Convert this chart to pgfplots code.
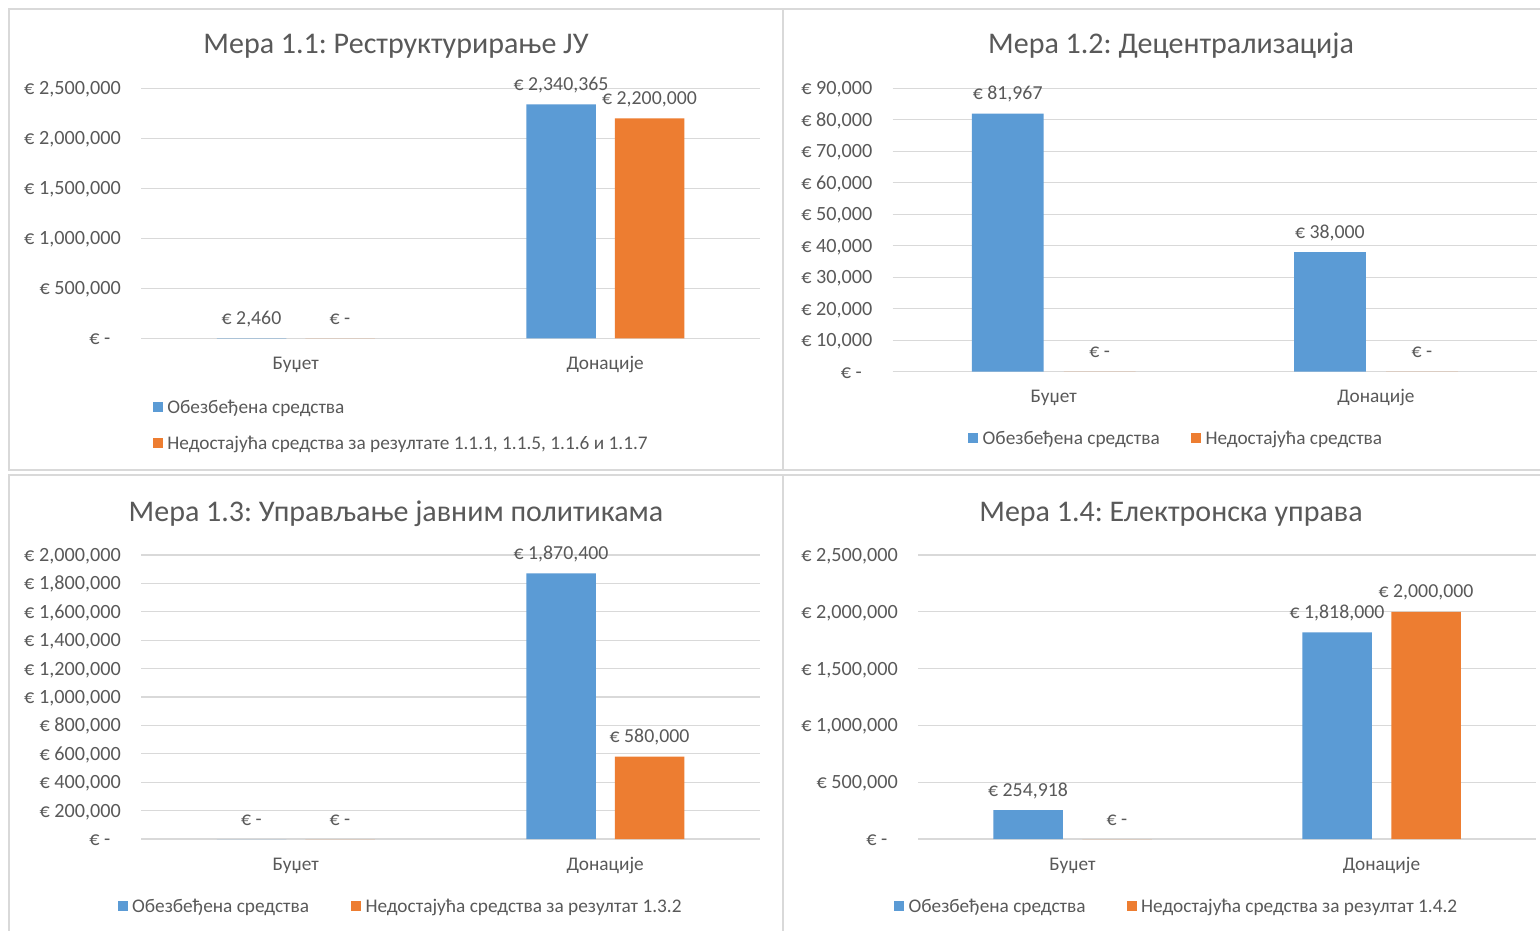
\documentclass[border=0pt]{standalone}
\usepackage{pgfplots}
\pgfplotsset{compat=1.18}
\usepackage{fontspec}
\setmainfont{Carlito}
\frenchspacing
\definecolor{cblue}{HTML}{5B9BD5}
\definecolor{corange}{HTML}{ED7D31}
\definecolor{txt}{HTML}{595959}
\definecolor{gridc}{HTML}{D9D9D9}
\newcommand\fs{\fontsize{19.3bp}{22bp}\selectfont}
\newcommand\fy{\fontsize{20.2bp}{23bp}\selectfont}
\newcommand\fd{\fontsize{19.8bp}{23bp}\selectfont}
\newcommand\ft{\fontsize{30bp}{35bp}\selectfont}
\newcommand\zero{€ -\rule{10.5bp}{0pt}}
\pgfplotsset{
  excel/.style={
    scale only axis, clip=false,
    ybar=#1,
    xmin=-0.5, xmax=1.5, ymin=0,
    scaled y ticks=false,
    xtick={0,1}, xticklabels={Буџет,Донације},
    axis line style={draw=none},
    major tick length=0pt,
    ymajorgrids, grid style={gridc, line width=1.3bp},
    tick label style={text=txt, inner sep=0pt},
    xticklabel style={font=\fs, anchor=base, yshift=-31bp},
    yticklabel style={font=\fy, anchor=base east, xshift=-20bp, yshift=-6.5bp},
    nodes near coords, point meta=explicit symbolic,
    every node near coord/.append style={font=\fd, text=txt, anchor=base, yshift=14bp, inner sep=0pt},
    legend style={draw=none, fill=none, inner sep=0pt, font=\fs, text=txt,
      column sep=4.5bp, row sep=18bp,
      nodes={inner sep=0pt, text height=13bp, text depth=5bp}},
    legend cell align=left,
    legend image code/.code={\fill[##1] (0bp,-2.5bp) rectangle (10bp,7.5bp);},
  }
}
\begin{document}
\begin{tikzpicture}
\useasboundingbox (0,0) rectangle (1540bp,-931bp);
\fill[white] (0,0) rectangle (1540bp,-931bp);
\draw[gridc, line width=2bp] (9bp,-9bp) rectangle (783bp,-470bp);
\draw[gridc, line width=2bp] (783bp,-9bp) rectangle (1560bp,-470bp);
\draw[gridc, line width=2bp] (9bp,-475bp) rectangle (783bp,-945bp);
\draw[gridc, line width=2bp] (783bp,-475bp) rectangle (1560bp,-945bp);

\node[anchor=base, font=\ft, text=txt] at (396bp,-53.5bp) {Мера 1.1: Реструктурирање ЈУ};
\node[anchor=base, font=\ft, text=txt] at (1171bp,-53.5bp) {Мера 1.2: Децентрализација};
\node[anchor=base, font=\ft, text=txt] at (396bp,-521.5bp) {Мера 1.3: Управљање јавним политикама};
\node[anchor=base, font=\ft, text=txt] at (1171bp,-521.5bp) {Мера 1.4: Електронска управа};

% Panel 1
\begin{axis}[excel=19bp, at={(141bp,-338.3bp)}, anchor=south west,
  width=619bp, height=250bp, ymax=2500000, bar width=69.5bp,
  ytick={0,500000,1000000,1500000,2000000,2500000},
  yticklabels={{\zero},{€ 500,000},{€ 1,000,000},{€ 1,500,000},{€ 2,000,000},{€ 2,500,000}},
  legend columns=1,
  legend style={at={(rel axis cs:0.0189,-0.3562)}, anchor=west}]
\addplot[fill=cblue, draw=none] table[x=x,y=y,meta=l] {
x y l
0 2460 {€ 2,460}
1 2340365 {€ 2,340,365}
};
\addlegendentry{Обезбеђена средства}
\addplot[fill=corange, draw=none] table[x=x,y=y,meta=l] {
x y l
0 0 {€ -}
1 2200000 {€ 2,200,000}
};
\addlegendentry{Недостајућа средства за резултате 1.1.1, 1.1.5, 1.1.6 и 1.1.7}
\end{axis}

% Panel 2
\begin{axis}[excel=20.3bp, at={(892.6bp,-371.7bp)}, anchor=south west,
  width=644.4bp, height=283.5bp, ymax=90000, bar width=71.7bp,
  ytick={0,10000,20000,30000,40000,50000,60000,70000,80000,90000},
  yticklabels={{\zero},{€ 10,000},{€ 20,000},{€ 30,000},{€ 40,000},{€ 50,000},{€ 60,000},{€ 70,000},{€ 80,000},{€ 90,000}},
  legend columns=2,
  legend style={at={(rel axis cs:0.117,-0.2437)}, anchor=west}]
\addplot[fill=cblue, draw=none] table[x=x,y=y,meta=l] {
x y l
0 81967 {€ 81,967}
1 38000 {€ 38,000}
};
\addlegendentry{\makebox[203.9bp][l]{Обезбеђена средства}}
\addplot[fill=corange, draw=none] table[x=x,y=y,meta=l] {
x y l
0 0 {€ -}
1 0 {€ -}
};
\addlegendentry{Недостајућа средства}
\end{axis}

% Panel 3
\begin{axis}[excel=19bp, at={(141bp,-839bp)}, anchor=south west,
  width=619bp, height=284bp, ymax=2000000, bar width=69.5bp,
  ytick={0,200000,400000,600000,800000,1000000,1200000,1400000,1600000,1800000,2000000},
  yticklabels={{\zero},{€ 200,000},{€ 400,000},{€ 600,000},{€ 800,000},{€ 1,000,000},{€ 1,200,000},{€ 1,400,000},{€ 1,600,000},{€ 1,800,000},{€ 2,000,000}},
  legend columns=2,
  legend style={at={(rel axis cs:-0.0381,-0.2437)}, anchor=west}]
\addplot[fill=cblue, draw=none] table[x=x,y=y,meta=l] {
x y l
0 0 {€ -}
1 1870400 {€ 1,870,400}
};
\addlegendentry{\makebox[214.4bp][l]{Обезбеђена средства}}
\addplot[fill=corange, draw=none] table[x=x,y=y,meta=l] {
x y l
0 0 {€ -}
1 580000 {€ 580,000}
};
\addlegendentry{Недостајућа средства за резултат 1.3.2}
\end{axis}

% Panel 4
\begin{axis}[excel=19.5bp, at={(918bp,-839bp)}, anchor=south west,
  width=618bp, height=284bp, ymax=2500000, bar width=69.5bp,
  ytick={0,500000,1000000,1500000,2000000,2500000},
  yticklabels={{\zero},{€ 500,000},{€ 1,000,000},{€ 1,500,000},{€ 2,000,000},{€ 2,500,000}},
  legend columns=2,
  legend style={at={(rel axis cs:-0.039,-0.2437)}, anchor=west}]
\addplot[fill=cblue, draw=none] table[x=x,y=y,meta=l] {
x y l
0 254918 {€ 254,918}
1 1818000 {€ 1,818,000}
};
\addlegendentry{\makebox[213.6bp][l]{Обезбеђена средства}}
\addplot[fill=corange, draw=none] table[x=x,y=y,meta=l] {
x y l
0 0 {€ -}
1 2000000 {€ 2,000,000}
};
\addlegendentry{Недостајућа средства за резултат 1.4.2}
\end{axis}
\end{tikzpicture}
\end{document}
